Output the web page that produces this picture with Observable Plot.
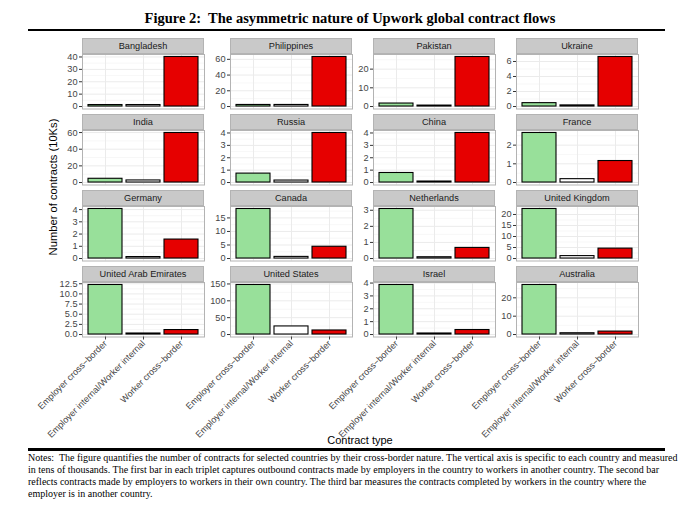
<!DOCTYPE html>
<html>
<head>
<meta charset="utf-8">
<script src="https://cdn.jsdelivr.net/npm/d3@7"></script>
<script src="https://cdn.jsdelivr.net/npm/@observablehq/plot@0.6"></script>
<style>
  body { margin: 0; background: #fff; }
  #root { position: relative; width: 690px; height: 513px; overflow: hidden; font-family: "Liberation Sans", Arial, sans-serif; }
  .title { position: absolute; left: 0; top: 10px; width: 700px; text-align: center; font-family: "Liberation Serif", "Times New Roman", serif; font-weight: bold; font-size: 14.5px; white-space: pre; }
  .rule { position: absolute; left: 28px; width: 637px; background: #000; }
  .strip { position: absolute; box-sizing: border-box; height: 16px; background: #C9C9C9; border: 1px solid #B3B3B3; color: #1A1A1A; font-size: 9.2px; line-height: 14px; text-align: center; white-space: nowrap; z-index: 2; }
  .panel { position: absolute; z-index: 1; }
  .panel svg { overflow: visible; background: transparent !important; }
  .ytitle { position: absolute; left: 53px; top: 187px; transform: translate(-50%, -50%) rotate(-90deg); font-size: 11.2px; white-space: nowrap; color: #000; z-index: 3; }
  .xtitle { position: absolute; left: 360px; top: 440px; transform: translate(-50%, -50%); font-size: 11px; white-space: nowrap; color: #000; z-index: 3; }
  .notes { position: absolute; left: 28px; top: 452px; width: 640px; font-family: "Liberation Serif", "Times New Roman", serif; font-size: 10px; line-height: 12px; white-space: pre; color: #000; }
</style>
</head>
<body>
<div id="root"></div>
<script>
const countries = ["Bangladesh", "Philippines", "Pakistan", "Ukraine",
  "India", "Russia", "China", "France",
  "Germany", "Canada", "Netherlands", "United Kingdom",
  "United Arab Emirates", "United States", "Israel", "Australia"];
const contractTypes = ["Employer cross\u2212border", "Employer internal/Worker internal", "Worker cross\u2212border"];
const employerCrossBorder = [1.2, 2.0, 1.6, 0.45, 4.5, 0.72, 0.77, 2.65, 4.05, 18.3, 3.08, 22.5, 12.2, 147, 3.85, 27];
const internalContracts   = [1.2, 2.0, 0.5, 0.15, 2.5, 0.16, 0.08, 0.18, 0.12, 0.6, 0.08, 1.1, 0.25, 24, 0.08, 0.7];
const workerCrossBorder   = [40, 63, 26.5, 6.6, 59.5, 4.0, 4.0, 1.15, 1.55, 4.35, 0.66, 4.5, 1.1, 12, 0.35, 1.6];
const yTicks = [
  [0, 10, 20, 30, 40], [0, 20, 40, 60], [0, 10, 20], [0, 2, 4, 6],
  [0, 20, 40, 60], [0, 1, 2, 3, 4], [0, 1, 2, 3, 4], [0, 1, 2],
  [0, 1, 2, 3, 4], [0, 5, 10, 15], [0, 1, 2, 3], [0, 5, 10, 15, 20],
  [0, 2.5, 5, 7.5, 10, 12.5], [0, 50, 100, 150], [0, 1, 2, 3, 4], [0, 10, 20]
];
const barColors = ["#98E09A", "#FFFFFF", "#E60000"];

const titleText = "Figure 2:  The asymmetric nature of Upwork global contract flows";
const yTitle = "Number of contracts (10Ks)";
const xTitle = "Contract type";
const notesLines = [
  "Notes:  The figure quantifies the number of contracts for selected countries by their cross-border nature. The vertical axis is specific to each country and measured",
  "in tens of thousands. The first bar in each triplet captures outbound contracts made by employers in the country to workers in another country. The second bar",
  "reflects contracts made by employers to workers in their own country. The third bar measures the contracts completed by workers in the country where the",
  "employer is in another country."
];

// layout
const colX = [82, 230, 373, 516];
const stripTop = [38, 114, 190, 266];
const panelW = 122, stripH = 16, plotH = 54.5, mLeft = 40;

const root = document.getElementById("root");
function add(cls, text, style) {
  const d = document.createElement("div");
  d.className = cls;
  if (text != null) d.textContent = text;
  if (style) Object.assign(d.style, style);
  root.appendChild(d);
  return d;
}
add("title", titleText);
add("rule", null, {top: "29px", height: "2px"});
add("rule", null, {top: "448px", height: "2.5px"});
add("ytitle", yTitle);
add("xtitle", xTitle);
add("notes", notesLines.join("\n"));

countries.forEach((country, i) => {
  const r = Math.floor(i / 4), c = i % 4;
  const data = contractTypes.map((t, k) => ({
    type: t,
    value: [employerCrossBorder, internalContracts, workerCrossBorder][k][i]
  }));
  const M = d3.max(data, d => d.value);
  const ticks = yTicks[i];
  const step = ticks[1] - ticks[0];
  const lo = -0.05 * M, hi = 1.05 * M;
  const minor = [];
  for (let v = ticks[0] - step / 2; v <= hi; v += step) if (v >= lo && v <= hi) minor.push(v);
  const fmt = ticks.some(t => !Number.isInteger(t)) ? d3.format(".1f") : d3.format("d");
  const bottom = r === 3;

  const chart = Plot.plot({
    width: mLeft + panelW,
    height: plotH + (bottom ? 100 : 0),
    marginLeft: mLeft,
    marginRight: 0,
    marginTop: 0,
    marginBottom: bottom ? 100 : 0,
    style: {fontFamily: "'Liberation Sans', Arial, sans-serif", fontSize: "9.2px", color: "#454545", background: "transparent", overflow: "visible"},
    x: {domain: contractTypes, paddingInner: 0.1, paddingOuter: 0.15, axis: null},
    y: {domain: [lo, hi], axis: null},
    color: {domain: contractTypes, range: barColors},
    marks: [
      Plot.ruleY(minor, {stroke: "#F2F2F2", strokeWidth: 0.6}),
      Plot.ruleY(ticks, {stroke: "#EBEBEB", strokeWidth: 1}),
      Plot.gridX({stroke: "#EBEBEB", strokeOpacity: 1, strokeWidth: 1}),
      Plot.barY(data, {x: "type", y: "value", fill: "type", stroke: "#000", strokeWidth: 1.1}),
      Plot.frame({stroke: "#B3B3B3", strokeWidth: 1}),
      Plot.axisY(ticks, {tickSize: 3, tickPadding: 2, tickFormat: fmt, fontSize: 9.2, stroke: "#333", label: null}),
      ...(bottom ? [Plot.axisX({tickSize: 3, tickPadding: 2, tickRotate: -45, fontSize: 9, label: null})] : [])
    ]
  });
  const holder = add("panel", null, {left: (colX[c] - mLeft) + "px", top: (stripTop[r] + stripH) + "px"});
  holder.appendChild(chart);
  add("strip", country, {left: colX[c] + "px", top: stripTop[r] + "px", width: panelW + "px"});
});
</script>
</body>
</html>
